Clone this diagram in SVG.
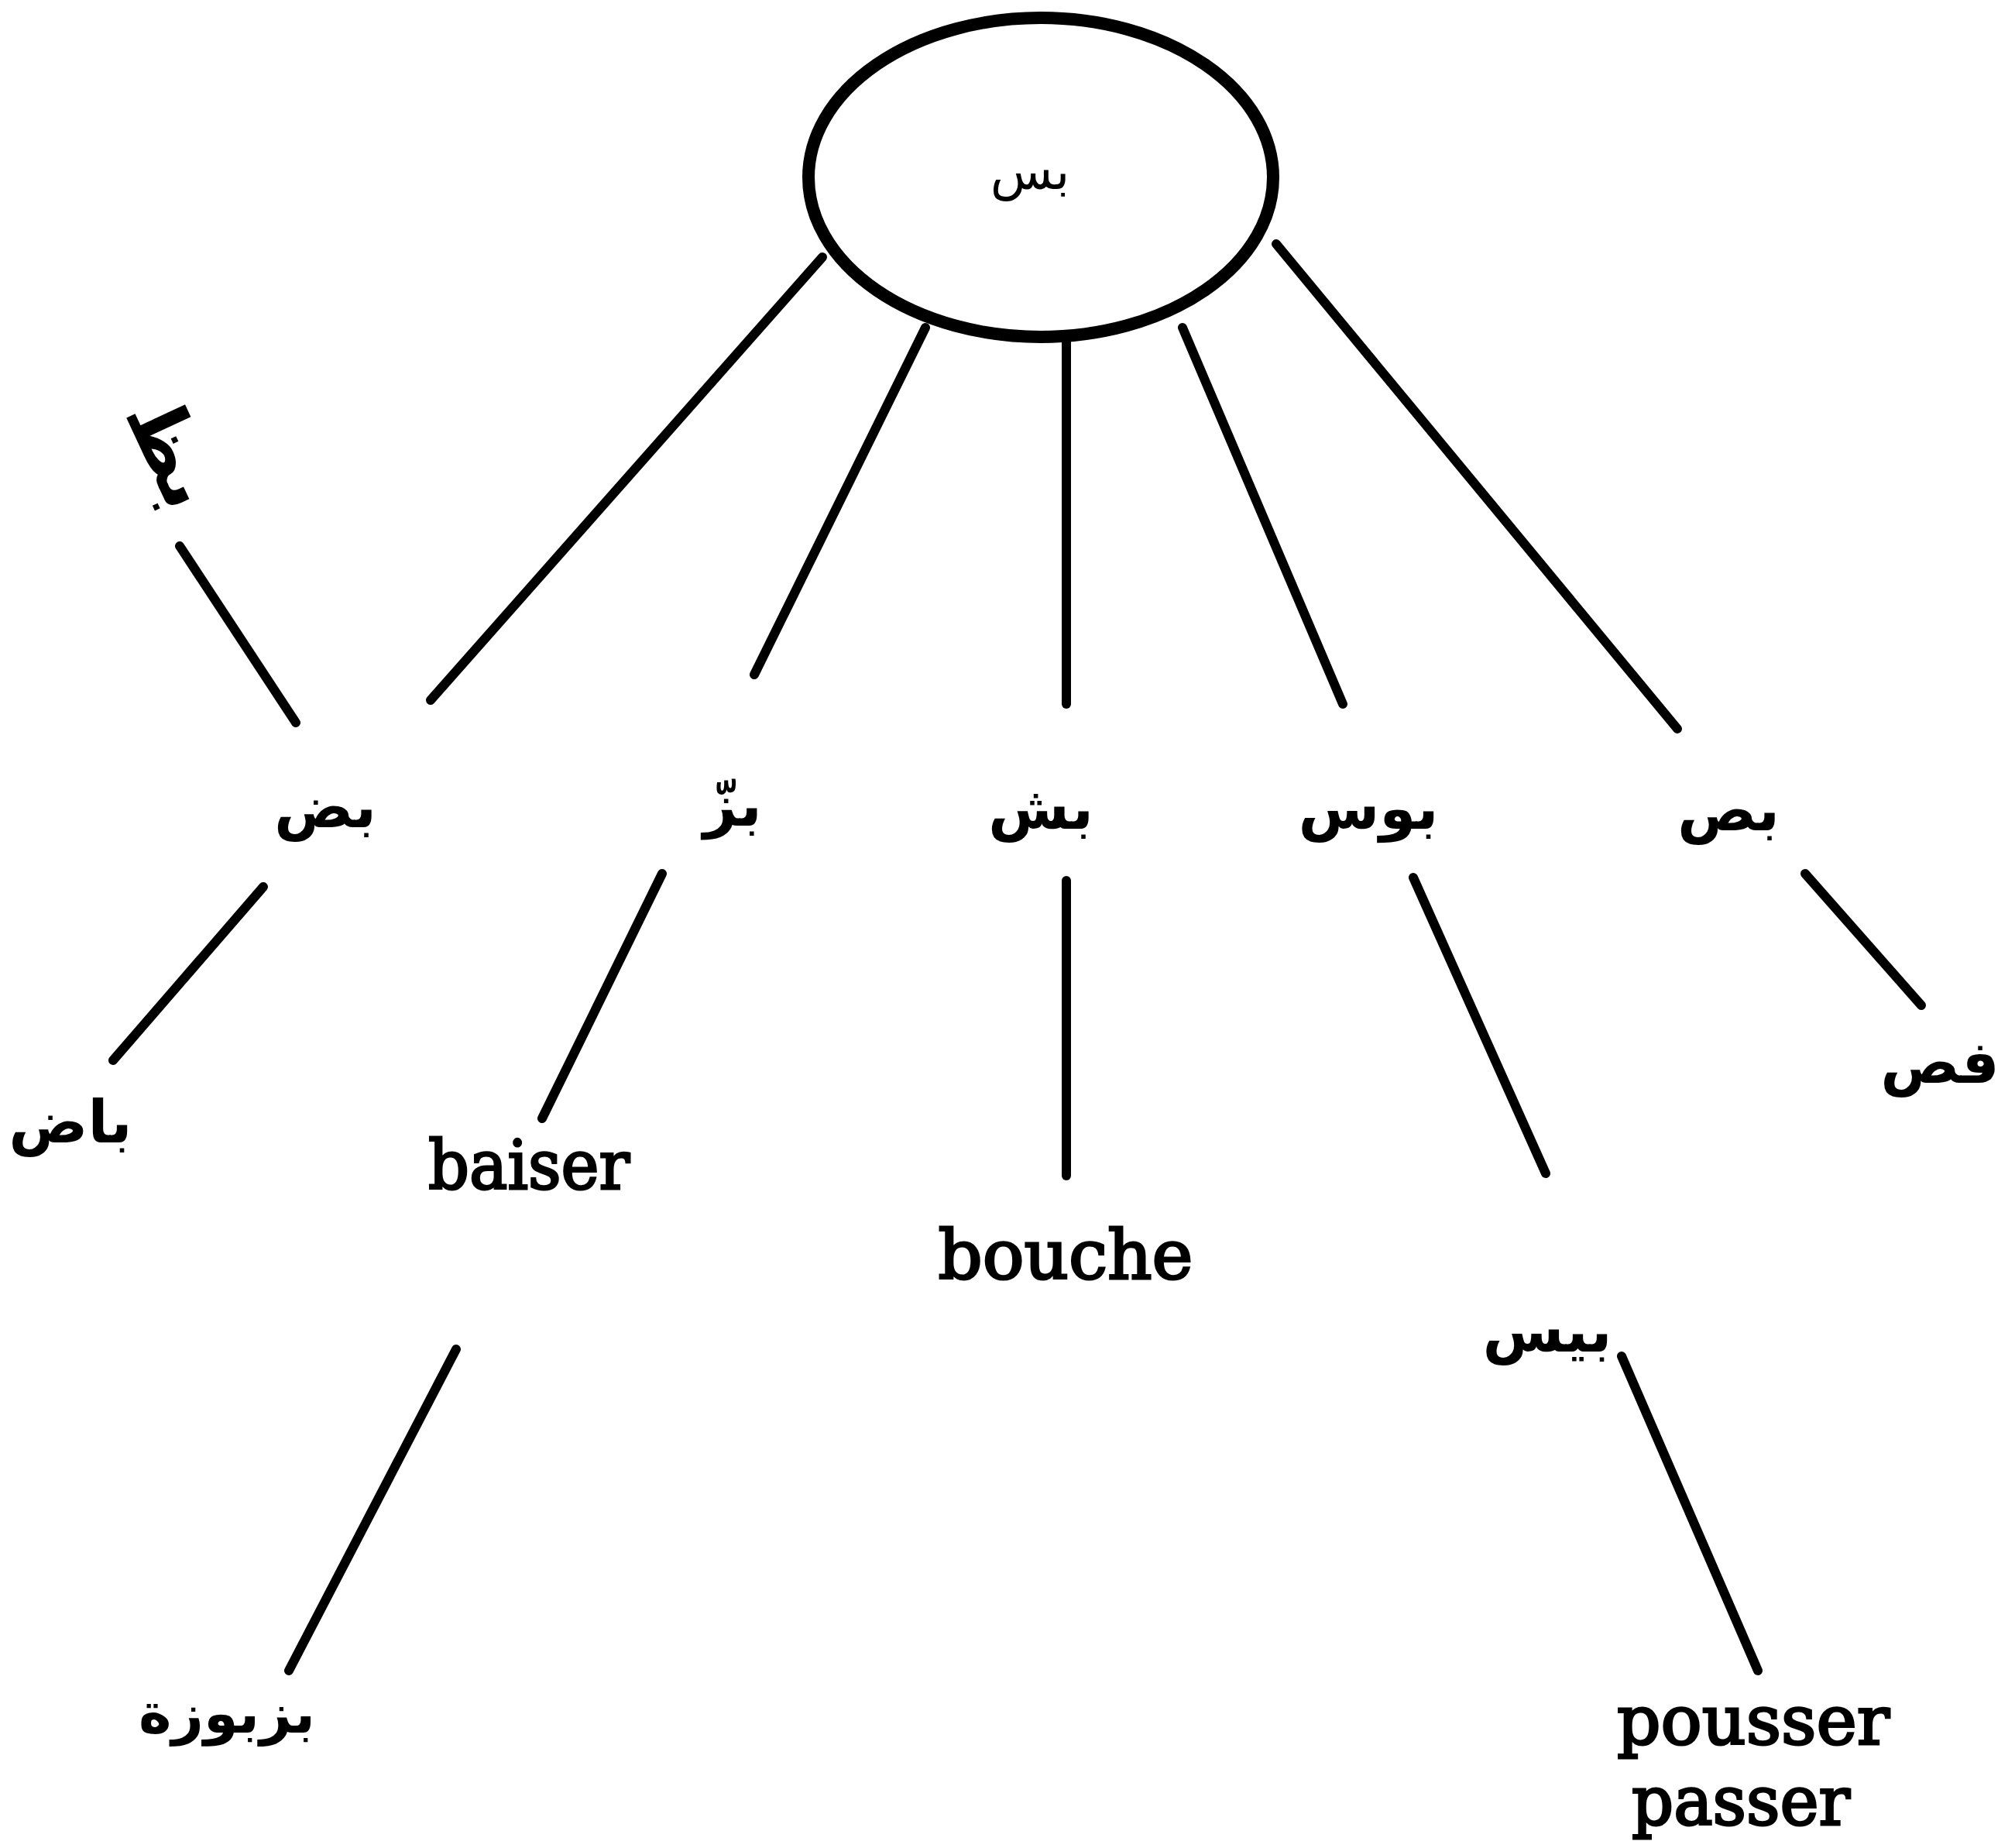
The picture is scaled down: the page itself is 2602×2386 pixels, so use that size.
<svg xmlns="http://www.w3.org/2000/svg" width="2602" height="2386" viewBox="0 0 2602 2386">
  <style>
    .edge { stroke: #000; stroke-width: 12; stroke-linecap: round; fill: none; }
    .ar { font-family: "DejaVu Sans", sans-serif; font-weight: bold; font-size: 76px; fill: #000; text-anchor: middle; }
    .fr { font-family: "DejaVu Serif", "Liberation Serif", serif; font-size: 88px; fill: #000; stroke: #000; stroke-width: 3; text-anchor: middle; }
  </style>
  <rect width="2602" height="2386" fill="#fff"/>

  <!-- connectors -->
  <g id="connectors">
    <line class="edge" x1="1062" y1="332" x2="556" y2="904"/>
    <line class="edge" x1="1195" y1="423" x2="974" y2="871"/>
    <line class="edge" x1="1377" y1="440" x2="1377" y2="909"/>
    <line class="edge" x1="1527" y1="423" x2="1734" y2="909"/>
    <line class="edge" x1="1648" y1="315" x2="2166" y2="941"/>
    <line class="edge" x1="232" y1="705" x2="382" y2="933"/>
    <line class="edge" x1="340" y1="1145" x2="146" y2="1369"/>
    <line class="edge" x1="855" y1="1128" x2="700" y2="1444"/>
    <line class="edge" x1="1377" y1="1137" x2="1377" y2="1518"/>
    <line class="edge" x1="1825" y1="1133" x2="1996" y2="1515"/>
    <line class="edge" x1="2331" y1="1128" x2="2481" y2="1298"/>
    <line class="edge" x1="589" y1="1742" x2="373" y2="2157"/>
    <line class="edge" x1="2094" y1="1751" x2="2270" y2="2157"/>
  </g>

  <!-- root -->
  <g id="root">
    <ellipse cx="1344" cy="229" rx="300" ry="206" fill="#fff" stroke="#000" stroke-width="16"/>
    <text class="ar" x="1330" y="244" style="font-size:66px;font-weight:normal">بس</text>
  </g>

  <!-- second level -->
  <g id="n-bdh"><text class="ar" x="420" y="1068">بض</text></g>
  <g id="n-bzz"><text class="ar" x="946" y="1066">بزّ</text></g>
  <g id="n-bsh"><text class="ar" x="1344" y="1070">بش</text></g>
  <g id="n-bws"><text class="ar" x="1767" y="1070">بوس</text></g>
  <g id="n-bss"><text class="ar" x="2232" y="1072">بص</text></g>

  <!-- rotated word, top left -->
  <g id="n-bzh"><text class="ar" transform="translate(218 586) rotate(65)" x="0" y="30" style="font-size:100px">بظ</text></g>

  <!-- third level -->
  <g id="n-bad"><text class="ar" x="91" y="1475">باض</text></g>
  <g id="n-baiser"><text class="fr" x="683" y="1535" textLength="260" lengthAdjust="spacingAndGlyphs">baiser</text></g>
  <g id="n-bouche"><text class="fr" x="1376" y="1651" textLength="329" lengthAdjust="spacingAndGlyphs">bouche</text></g>
  <g id="n-bys"><text class="ar" x="1998" y="1745">بيس</text></g>
  <g id="n-fss"><text class="ar" x="2505" y="1398">فص</text></g>

  <!-- fourth level -->
  <g id="n-bzbwza"><text class="ar" x="293" y="2237" style="font-size:72px">بزبوزة</text></g>
  <g id="n-pousser">
    <text class="fr" x="2264" y="2252" textLength="352" lengthAdjust="spacingAndGlyphs">pousser</text>
    <text class="fr" x="2248" y="2356" textLength="282" lengthAdjust="spacingAndGlyphs">passer</text>
  </g>
</svg>
